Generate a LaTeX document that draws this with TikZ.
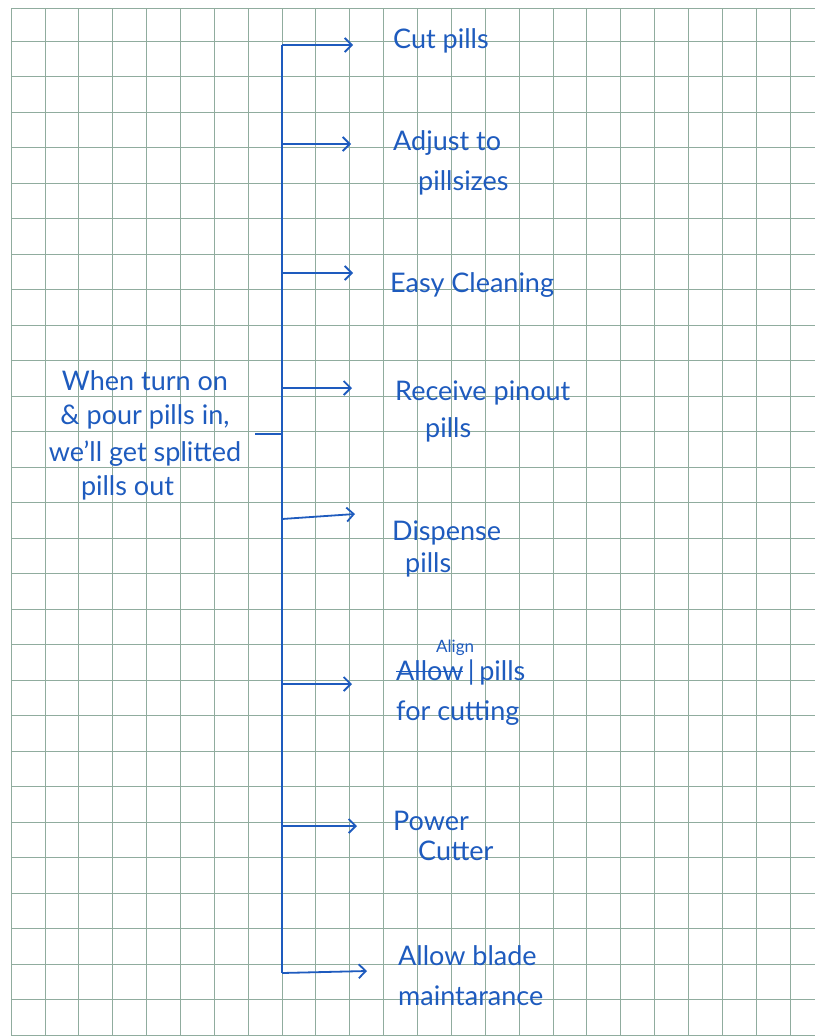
\documentclass[tikz,border=0pt]{standalone}
\usepackage{fontspec}
\setmainfont{Lato}
\usepackage{tikz}
\usetikzlibrary{arrows.meta}
\definecolor{ink}{HTML}{1E5BBE}
\definecolor{gridline}{HTML}{90AC9E}
\newcommand\crossout[1]{\leavevmode\setbox0\hbox{#1}\rlap{\rule[0.3em]{\wd0}{1.3pt}}\box0}

\tikzset{
  note/.style={font=\fontsize{27}{37}\selectfont, text=ink, anchor=base west, align=left, inner sep=0pt},
  flow/.style={draw=ink, line width=1.8pt, -{Straight Barb[length=7pt,width=14pt]}},
  wire/.style={draw=ink, line width=1.8pt},
}

\begin{document}
\begin{tikzpicture}[x=1pt, y=-1pt]
          \useasboundingbox (0,0) rectangle (815,1036);

          % Paper grid
          \draw[gridline, line width=0.7pt] (11,8) -- (815,8);
          \foreach \k in {0,...,28}
            \draw[gridline, line width=0.7pt] (11,41+35.5*\k) -- (815,41+35.5*\k);
          \foreach \k in {0,...,23}
            \draw[gridline, line width=0.7pt] (11+33.87*\k,8) -- (11+33.87*\k,1036);

          % Input statement (base = last line)
          \node[note, align=center, anchor=base] (input) at (145,495) {When turn on\\[-3pt]
            \& pour pills in,\\we'll get splitted\\[-3pt]pills out\hspace*{35pt}};

          % Functions
          \node[note] (cut) at (393,48) {Cut pills};
          \node[note] (adjust) at (393,190) {Adjust to\\[3pt]\hspace*{25pt}pillsizes};
          \node[note] (clean) at (390,292) {Easy Cleaning};
          \node[note] (receive) at (395,437) {Receive pinout\\\hspace*{30pt}pills};
          \node[note] (dispense) at (392,572) {Dispense\\[-5pt]\hspace*{13pt}pills};
          \node[note] (align) at (396,720) {\crossout{Allow}\,|\,pills\\[3pt]for cutting};
          \node[note, font=\fontsize{17}{19}\selectfont] (insert) at (436,652) {Align};
          \node[note] (power) at (393,860) {Power\\[-7pt]\hspace*{25pt}Cutter};
          \node[note] (blade) at (398,1005) {Allow blade\\[3pt]maintarance};

          % Branch points
          \coordinate (j1) at (282,45);
          \coordinate (j2) at (282,144);
          \coordinate (j3) at (282,273);
          \coordinate (j4) at (282,388);
          \coordinate (j5) at (282,519);
          \coordinate (j6) at (282,684);
          \coordinate (j7) at (282,826);
          \coordinate (j8) at (282,973);
          \coordinate (feed) at (255,434);

          % Trunk and input
          \draw[wire] (j1) -- (j8);
          \draw[wire] (feed) -- (feed -| j1);

          % Arrows to functions
          \draw[flow] (j1) -- ++(71,0);
          \draw[flow] (j2) -- ++(69,0);
          \draw[flow] (j3) -- ++(71,0);
          \draw[flow] (j4) -- ++(70,0);
          \draw[flow] (j5) -- ++(73,-5);
          \draw[flow] (j6) -- ++(70,0);
          \draw[flow] (j7) -- ++(75,0);
          \draw[flow] (j8) -- ++(85,-2);
        \end{tikzpicture}
\end{document}
